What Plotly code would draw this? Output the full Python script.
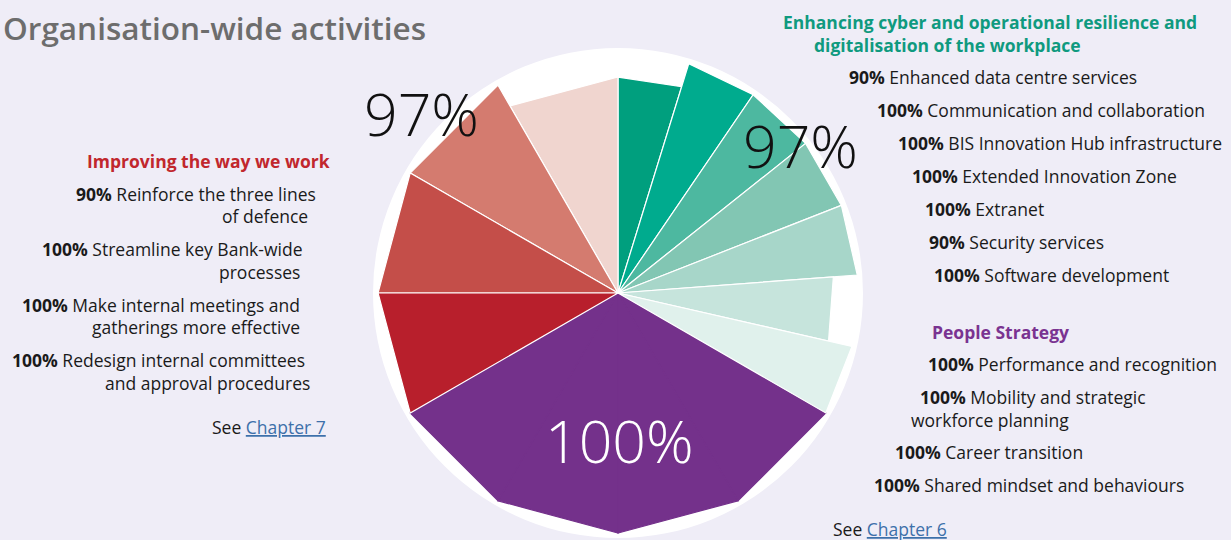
import plotly.graph_objects as go

W, H = 1231, 540

# ---------------- data ----------------
page_title = "Organisation-wide activities"

group_titles = ["Enhancing cyber and operational resilience and\ndigitalisation of the workplace",
                "People Strategy",
                "Improving the way we work"]
group_totals = [97, 100, 97]

cyber_labels = ["Enhanced data centre services", "Communication and collaboration",
                "BIS Innovation Hub infrastructure", "Extended Innovation Zone",
                "Extranet", "Security services", "Software development"]
cyber_values = [90, 100, 100, 100, 100, 90, 100]

people_labels = ["Performance and recognition", "Mobility and strategic\nworkforce planning",
                 "Career transition", "Shared mindset and behaviours"]
people_values = [100, 100, 100, 100]

work_labels = ["Reinforce the three lines\nof defence", "Streamline key Bank-wide\nprocesses",
               "Make internal meetings and\ngatherings more effective",
               "Redesign internal committees\nand approval procedures"]
work_values = [90, 100, 100, 100]

chapter_refs = ["Chapter 6", "Chapter 7"]

# ---------------- styles ----------------
BG = "#efedf7"
cyber_colors = ["#009f7e", "#00ab8e", "#4db8a0", "#82c6b3", "#a7d6c9", "#c6e4dc", "#e0f1ec"]
people_colors = ["#74318b"] * 4
work_colors = ["#f0d5cf", "#d47b6f", "#c44e49", "#b81f2c"]
GREEN_T, PURPLE_T, RED_T = "#0f9a7f", "#7a3391", "#c1272d"
TXT = "#1a1a1a"
LINK = "#3d70aa"
FONT = "Open Sans"
FS = 17.5

# pie geometry (pixels)
CX, CY, R = 618, 293, 245

fig = go.Figure()


def wedge(t0, t1, v, color, line_color):
    fig.add_trace(go.Scatterpolar(
        r=[0, v, v, 0], theta=[t0, t0, t1, t1], mode="lines", fill="toself",
        fillcolor=color, line=dict(color=line_color, width=1.2),
        hoverinfo="skip", showlegend=False))


span = 120.0
# people (draw first so neighbouring separators stay visible)
n = len(people_values)
for i, v in enumerate(people_values):
    t0 = span + i * span / n
    wedge(t0, t0 + span / n, v, people_colors[i], people_colors[i])
# cyber: clockwise from 12 o'clock
n = len(cyber_values)
for i, v in enumerate(cyber_values):
    t0 = i * span / n
    wedge(t0, t0 + span / n, v, cyber_colors[i], "white")
# work: counter-clockwise from 12 o'clock
n = len(work_values)
for i, v in enumerate(work_values):
    t1 = 360 - i * span / n
    wedge(t1 - span / n, t1, v, work_colors[i], "white")

fig.update_layout(
    width=W, height=H, margin=dict(l=0, r=0, t=0, b=0),
    paper_bgcolor=BG, plot_bgcolor=BG,
    polar=dict(
        domain=dict(x=[(CX - R) / W, (CX + R) / W], y=[1 - (CY + R) / H, 1 - (CY - R) / H]),
        bgcolor="white",
        radialaxis=dict(range=[0, 102.1], visible=False),
        angularaxis=dict(rotation=90, direction="clockwise", showgrid=False,
                         showticklabels=False, ticks="", showline=False),
    ),
    showlegend=False,
)


def ann(x, y, text, anchor="left", size=FS, color=TXT, weight=None, family=FONT):
    f = dict(family=family, size=size, color=color)
    if weight:
        f["weight"] = weight
    fig.add_annotation(x=x / W, y=1 - y / H, xref="paper", yref="paper", text=text,
                       xanchor=anchor, yanchor="middle", showarrow=False, font=f)


def link(txt):
    return f"<span style='color:{LINK};text-decoration:underline;text-decoration-color:#9aa3b5'>{txt}</span>"


# title
ann(1, 27, page_title, anchor="left", size=31.5, color="#6d6d6d", weight=600)

# big totals
ann(421, 113, f"{group_totals[2]}%", anchor="center", size=59, color="#111111", weight=300)
ann(800, 145, f"{group_totals[0]}%", anchor="center", size=59, color="#111111", weight=300)
ann(619, 440, f"{group_totals[1]}%", anchor="center", size=59, color="white", weight=300)

# ---- right block: cyber ----
gt = group_titles[0].split("\n")
ann(781, 22, f"<b>{gt[0]}</b>", color=GREEN_T)
ann(812, 45, f"<b>{gt[1]}</b>", color=GREEN_T)
cyber_pos = [(847, 77), (875, 110), (896, 143), (910, 176), (923, 209), (927, 242), (932, 275)]
for (x, y), lab, v in zip(cyber_pos, cyber_labels, cyber_values):
    ann(x, y, f"<b>{v}%</b> {lab}")

# ---- right block: people ----
ann(930, 332, f"<b>{group_titles[1]}</b>", color=PURPLE_T)
people_pos = [[(926, 364)], [(918, 397), (909, 420)], [(893, 452)], [(872, 485)]]
for pos, lab, v in zip(people_pos, people_labels, people_values):
    lines = lab.split("\n")
    for k, ((x, y), line) in enumerate(zip(pos, lines)):
        ann(x, y, (f"<b>{v}%</b> " if k == 0 else "") + line)
ann(831, 529, f"See {link(chapter_refs[0])}")

# ---- left block: work ----
ann(332, 161, f"<b>{group_titles[2]}</b>", anchor="right", color=RED_T)
work_pos = [[(318, 194), (310, 216)], [(304, 249), (302, 272)],
            [(302, 305), (302, 327)], [(307, 360), (312, 383)]]
for pos, lab, v in zip(work_pos, work_labels, work_values):
    lines = lab.split("\n")
    for k, ((x, y), line) in enumerate(zip(pos, lines)):
        ann(x, y, (f"<b>{v}%</b> " if k == 0 else "") + line, anchor="right")
ann(328, 427, f"See {link(chapter_refs[1])}", anchor="right")

fig.write_html("out.html", config={"displayModeBar": False},
               post_script="document.body.style.margin='0';")
